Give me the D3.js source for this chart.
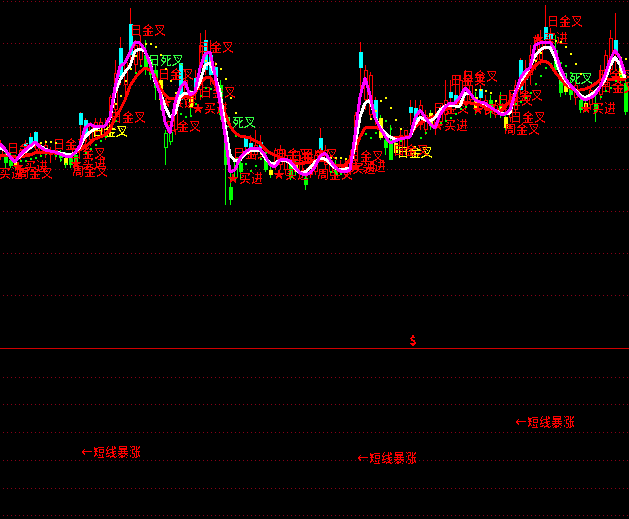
<!DOCTYPE html>
<html><head><meta charset="utf-8">
<script src="https://cdn.jsdelivr.net/npm/d3@7/dist/d3.min.js"></script>
<style>html,body{margin:0;padding:0;background:#000;overflow:hidden}svg{display:block}</style>
</head><body><svg id="c" width="629" height="519"></svg>
<script>
const barCount = 126;
const gridVals = [347,305,263,221,179,137,95,53,-29,-56,-84,-112,-140,-167];
const zeroVal = 0;
const highs = [208,198,196,193,200,208,215,217,205,208,201,202,198,196,195,198,236,230,226,230,230,230,253,288,311,288,340,308,313,308,293,283,273,218,223,253,285,278,258,278,315,318,308,286,268,218,180,193,188,213,213,218,213,193,183,200,203,198,188,188,193,178,188,198,220,203,193,188,188,188,198,236,306,283,276,251,233,213,223,208,218,218,248,248,248,238,238,238,243,268,268,273,273,278,268,256,263,253,253,248,256,235,256,268,290,288,303,313,318,343,320,313,283,268,268,268,253,248,263,253,283,298,318,335,288,268];
const bodyTops = [201,193,188,186,198,205,211,216,202,203,198,198,195,190,190,193,235,228,223,226,226,223,251,275,300,286,324,303,303,293,288,278,268,215,216,248,285,268,251,270,303,308,293,281,263,213,161,190,185,210,205,203,206,188,178,198,198,193,185,185,188,170,183,193,210,198,188,183,183,183,193,233,296,278,273,248,230,208,208,205,213,218,241,240,243,233,235,233,240,248,256,253,268,258,263,251,259,248,248,243,243,231,248,263,288,273,293,311,308,321,315,298,275,263,263,263,248,245,258,245,278,293,310,308,280,265];
const bodyBots = [193,185,182,182,190,198,202,206,196,195,193,193,190,183,183,183,223,213,208,216,216,213,223,238,271,263,293,283,288,278,273,260,248,200,206,218,248,248,240,256,258,278,273,271,233,183,148,170,176,201,198,193,200,178,173,183,183,178,170,176,176,163,173,176,198,183,176,173,176,173,176,188,280,248,233,228,210,200,188,195,198,198,235,228,223,218,223,220,226,233,250,245,243,243,248,240,250,238,236,233,233,220,230,238,258,268,273,288,288,308,308,278,255,256,253,250,238,238,243,236,253,263,278,296,268,236];
const lows = [188,180,180,180,186,193,198,198,192,190,185,188,186,180,180,181,208,203,202,208,213,208,218,233,263,253,278,276,283,273,268,248,238,183,203,213,243,243,233,248,248,273,263,258,228,143,143,168,168,193,193,188,193,176,170,178,178,173,168,173,173,158,170,173,193,178,173,170,173,170,173,183,251,238,228,223,208,193,188,193,193,193,223,218,218,213,218,213,223,228,243,238,238,238,243,233,243,233,230,230,230,215,226,233,253,253,263,278,283,298,300,273,251,253,248,243,235,236,238,226,248,258,273,278,263,233];
const candleKinds = ["r","g","g","y","r","c","c","c","r","r","r","r","g","y","g","g","c","c","r","r","r","r","r","r","c","r","c","r","r","g","g","g","y","o","o","r","c","r","y","c","r","c","c","c","g","g","g","o","g","c","c","r","c","g","y","r","r","r","g","y","r","g","r","r","c","r","r","g","r","r","r","r","c","r","r","c","y","g","g","y","r","r","c","c","r","r","y","r","r","r","c","c","r","r","r","y","c","r","g","r","g","y","r","r","c","c","r","r","r","c","c","g","g","y","g","r","g","y","r","g","r","r","r","c","y","g"];
const magentaLine = [204,199,191,186,193,198,202,206,201,198,197,196,194,192,191,195,203,220,224,221,222,222,231,261,282,285,296,306,305,298,284,268,255,226,215,245,260,266,253,256,280,294,296,273,245,213,176,178,190,196,199,200,199,193,183,181,188,189,187,181,175,173,175,181,192,195,188,181,177,176,178,213,251,270,253,230,220,212,205,207,209,210,211,230,238,231,224,220,233,241,245,245,251,260,255,248,246,245,241,238,234,234,238,254,269,277,280,303,305,306,306,298,281,270,263,258,251,248,250,253,261,273,288,298,290,274];
const whiteLine = [200,198,191,186,192,196,200,205,202,199,197,196,195,194,193,195,201,211,216,219,221,222,230,255,268,276,282,297,299,297,286,266,256,242,231,234,251,255,255,256,266,283,285,273,256,223,193,187,188,194,197,198,198,190,185,185,188,188,185,180,175,176,180,186,190,189,185,180,178,179,180,203,231,245,248,231,221,215,211,209,209,210,211,223,231,228,227,230,238,242,243,242,242,255,255,248,246,244,241,238,235,234,235,255,266,273,281,292,298,301,301,290,276,268,262,258,253,250,253,256,261,268,282,291,283,270];
const redLine = [193,193,192,191,191,192,193,195,196,196,196,195,194,193,192,195,198,201,205,209,211,213,218,230,238,248,262,270,276,280,278,272,260,253,249,250,250,251,252,254,264,270,271,263,251,235,222,215,212,211,210,207,205,199,195,193,191,189,187,185,185,185,186,188,188,187,185,183,183,183,188,198,211,220,221,221,219,215,211,210,211,211,212,221,225,228,230,232,235,238,241,244,246,246,245,244,243,241,239,237,236,241,247,254,261,268,275,282,286,287,284,276,270,264,260,258,258,259,261,264,268,270,268,270,269,268];
const yellowBars = [8,9,10,11,21,22,23,24,25,26,27,28,29,30,31,32,33,34,35,41,42,43,44,45,46,47,66,67,68,69,74,75,76,77,78,79,80,81,95,96,97,98,99,100,106,107,108,109,110,111,112,113,114,115,116,123,124,125];
const yellowVals = [206,207,207,206,226,236,245,253,268,280,293,304,305,305,302,294,280,268,256,288,288,285,280,270,251,236,191,191,191,190,230,238,248,251,241,229,220,212,259,259,258,256,248,241,278,288,296,301,305,308,307,302,295,285,275,291,291,290];
const greenBars = [4,5,6,7,8,9,10,11,12,13,17,18,19,20,21,22,23,24,25,26,27,28,29,30,35,36,37,38,39,40,41,42,47,48,49,50,51,52,53,66,67,68,73,74,75,76,77,78,79,80,84,85,86,87,88,89,90,91,92,93,103,104,105,106,107,108,109,110,111,112,113,114,115,116,119,120,121,122,123,124];
const greenVals = [188,188,190,191,193,195,196,193,189,185,196,200,204,208,212,220,228,241,254,266,276,283,290,288,236,235,232,233,245,253,261,260,213,191,185,178,183,190,196,177,176,175,215,211,216,221,228,220,211,208,211,216,223,225,226,228,231,235,240,242,245,247,251,256,265,273,281,285,286,286,283,276,268,260,244,252,258,261,268,273];
const labelTexts = ["买进","周金叉","★买进","日金叉","日金叉","日金叉","周金叉","★买进","日金叉","日金叉","日金叉","日金叉","日金叉","日死叉","日金叉","日金叉","★买进","日金叉","★买进","日金叉","日死叉","★买进","★买进","日金叉","日金叉","周金叉","★买进","日金叉","★买进","日金叉","日金叉","★买进","日金叉","日金叉","★买进","日金叉","日金叉","周金叉","★买进","日金叉","日金叉","日死叉","★买进","日金叉","日金叉","日金叉","日金叉"];
const labelBars = [-0.2,3.4,2.4,1.4,10.6,14,14.4,14,22,18.4,33,26,31.6,29.6,39.6,40,32,46.6,38.4,55,44,45.4,54.6,60.4,69.6,63.4,68,79.4,70,86.6,90,86.4,92.4,99.4,94.4,101.4,102,100.8,106.4,109.4,119.6,111.4,116,120,120,58,78.6];
const labelVals = [175,175,182,200,204,195,177,185,231,217,222,318,274,288,301,256,246,195,240,194,226,170,174,194,192,174,180,196,182,240,268,223,272,248,239,253,231,219,310,327,273,270,240,261,261,192,198];
const labelKinds = ["r","r","r","r","r","r","r","r","r","y","r","r","r","l","r","r","r","r","r","r","l","r","r","r","r","r","r","y","r","r","r","r","r","r","r","r","r","r","r","r","r","l","r","r","r","r","r"];
const noteText = "←短线暴涨";
const noteBars = [16.2,71.4,103];
const noteVals = [-104,-110,-74];
const markText = "$";
const markBar = 82.6;
const markVal = 3;

const width = 629, height = 519;
const x = d3.scaleLinear().domain([0, barCount - 1]).range([0, 625]);
const y = d3.scaleLinear().domain([0, 348]).range([348, 0]);
const bodyColor = {r:"#ff0000", c:"#00ffff", g:"#00ff00", y:"#ffff00", o:"#00ff00"};
const wickColor = {r:"#ff0000", c:"#ff0000", g:"#00ff00", y:"#00ff00", o:"#00ff00"};
const textColor = {r:"#ff0000", y:"#ffff00", l:"#33ff44"};
const svg = d3.select("#c");
const defs = svg.append("defs");
const flt = defs.append("filter").attr("id","crisp").attr("x","-5%").attr("y","-5%").attr("width","110%").attr("height","110%")
  .attr("color-interpolation-filters","sRGB");
flt.append("feComponentTransfer").append("feFuncA").attr("type","discrete").attr("tableValues","0 0 1 1 1");

const grid = svg.append("g").attr("shape-rendering","crispEdges");
grid.selectAll("line").data(gridVals).join("line")
  .attr("x1",3).attr("x2",width).attr("y1",d=>y(d)+0.5).attr("y2",d=>y(d)+0.5)
  .attr("stroke","#8a0018").attr("stroke-width",1).attr("stroke-dasharray","1 3");
svg.append("line").attr("x1",0).attr("x2",width).attr("y1",y(zeroVal)+0.5).attr("y2",y(zeroVal)+0.5)
  .attr("stroke","#d00000").attr("stroke-width",1).attr("shape-rendering","crispEdges");

const idx = d3.range(barCount);
const cg = svg.append("g").attr("shape-rendering","crispEdges");
cg.selectAll("line").data(idx).join("line")
  .attr("x1",i=>Math.round(x(i))+0.5).attr("x2",i=>Math.round(x(i))+0.5)
  .attr("y1",i=>y(highs[i])).attr("y2",i=>y(lows[i]))
  .attr("stroke",i=>wickColor[candleKinds[i]]);
cg.selectAll("rect").data(idx).join("rect")
  .each(function(i){
    const k = candleKinds[i], hollow = (k==="r"||k==="o");
    const left = Math.round(x(i))-1, t = Math.round(y(bodyTops[i])), b = Math.round(y(bodyBots[i]));
    d3.select(this)
      .attr("x", hollow ? left+0.5 : left)
      .attr("y", hollow ? t+0.5 : t)
      .attr("width", hollow ? 3 : 4)
      .attr("height", Math.max(1, hollow ? b-t-1 : b-t))
      .attr("fill", hollow ? "#000" : bodyColor[k])
      .attr("stroke", hollow ? bodyColor[k] : "none");
  });

const font = "'Noto Sans CJK SC','DejaVu Sans',sans-serif";
const lg = svg.append("g").attr("font-family",font).attr("font-size",12).attr("filter","url(#crisp)");
lg.selectAll("text").data(labelTexts).join("text")
  .attr("x",(d,i)=>x(labelBars[i])).attr("y",(d,i)=>y(labelVals[i])).attr("dy","0.38em")
  .attr("fill",(d,i)=>textColor[labelKinds[i]]).text(d=>d);

const dots = svg.append("g").attr("shape-rendering","crispEdges");
dots.selectAll(".yd").data(yellowBars).join("rect").attr("class","yd")
  .attr("x",d=>Math.round(x(d))).attr("y",(d,i)=>Math.round(y(yellowVals[i])))
  .attr("width",2).attr("height",2).attr("fill","#ffff00");
dots.selectAll(".gd").data(greenBars).join("rect").attr("class","gd")
  .attr("x",d=>Math.round(x(d))).attr("y",(d,i)=>Math.round(y(greenVals[i])))
  .attr("width",2).attr("height",2).attr("fill","#00ff00");

const line = d3.line().x((d,i)=>x(i)).y(d=>y(d));
[[redLine,"#ff0000",3],[whiteLine,"#ffffff",3],[magentaLine,"#ff00ff",3]].forEach(([s,c,w])=>{
  svg.append("path").attr("d",line(s)).attr("fill","none").attr("stroke",c).attr("stroke-width",w)
    .attr("stroke-linejoin","round").attr("shape-rendering","crispEdges");
});

const ng = svg.append("g").attr("font-family",font).attr("font-size",12).attr("fill","#ff0000").attr("filter","url(#crisp)");
ng.selectAll("text").data(noteBars).join("text")
  .attr("x",d=>x(d)).attr("y",(d,i)=>y(noteVals[i])).attr("dy","0.38em").text(noteText);
ng.append("text").attr("x",x(markBar)).attr("y",y(markVal)).attr("text-anchor","middle")
  .attr("font-weight","bold").text(markText);
</script></body></html>
